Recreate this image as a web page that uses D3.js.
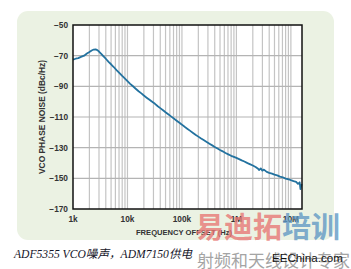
<!DOCTYPE html>
<html>
<head>
<meta charset="utf-8">
<script src="https://cdn.jsdelivr.net/npm/d3@7"></script>
<style>
  body { margin: 0; background: #fff; }
  svg { display: block; }
</style>
</head>
<body>
<figure id="chart" style="margin:0"></figure>
<script>
const freqs = [
  1000, 1120, 1250, 1400, 1600, 1800, 2000, 2200, 2400, 2600, 2800, 3000, 3300, 3600,
  4000, 4500, 5000, 5600, 6300, 7000, 8000, 9000, 10000, 11200, 12500, 14000, 16000,
  18000, 20000, 22500, 25000, 28000, 32000, 36000, 40000, 45000, 50000, 56000, 63000,
  71000, 80000, 90000, 100000, 112000, 125000, 140000, 160000, 180000, 200000, 225000,
  250000, 280000, 320000, 360000, 400000, 450000, 500000, 560000, 630000, 710000,
  800000, 900000, 1000000, 1120000, 1250000, 1400000, 1600000, 1800000, 2000000,
  2250000, 2500000, 2600000, 2800000, 3000000, 3200000, 3600000, 4000000, 4500000,
  5000000, 5600000, 6300000, 7100000, 8000000, 9000000, 10000000, 11200000, 12500000,
  13500000, 14500000, 15000000, 15500000, 16000000
];
const phaseNoise = [
  -72.6, -72.0, -71.6, -70.8, -70.0, -68.6, -67.6, -66.6, -66.0, -65.9, -66.4, -67.3, -68.8, -70.3,
  -72.0, -74.0, -75.6, -77.4, -79.4, -81.0, -83.2, -85.0, -86.6, -88.4, -89.8, -91.4, -93.2,
  -94.6, -96.0, -97.4, -98.6, -99.9, -101.4, -103.0, -104.2, -105.6, -106.9, -108.2, -109.6,
  -111.0, -112.4, -113.8, -115.0, -116.4, -117.6, -118.9, -120.4, -121.7, -122.8, -124.0,
  -125.0, -126.1, -127.4, -128.5, -129.5, -130.6, -131.5, -132.4, -133.5, -134.4,
  -135.3, -136.0, -136.7, -137.5, -138.3, -139.0, -140.1, -140.9, -141.6,
  -142.6, -143.8, -144.6, -143.5, -145.0, -144.3, -145.8, -146.4, -146.9,
  -147.6, -148.1, -148.9, -149.3, -150.2, -150.6, -151.2, -151.8, -152.3,
  -153.6, -152.6, -157.0, -154.5, -153.8
];
const yTicks = [-50, -70, -90, -110, -130, -150, -170];
const xTickVals = [1e3, 1e4, 1e5, 1e6, 1e7];
const xTickLabels = ["1k", "10k", "100k", "1M", "10M"];

const W = 351, H = 269;
const plot = {left: 73, right: 302, top: 25, bottom: 209};

const svg = d3.select("#chart").append("svg")
  .attr("width", W).attr("height", H);

// green panel behind the chart
svg.append("rect")
  .attr("x", 17).attr("y", 11).attr("width", 317).attr("height", 229)
  .attr("rx", 11).attr("fill", "#ebf2e3");

const x = d3.scaleLog().domain([1e3, 1.6e7]).range([plot.left, plot.right]);
const y = d3.scaleLinear().domain([-170, -50]).range([plot.bottom, plot.top]);

svg.append("rect")
  .attr("x", plot.left).attr("y", plot.top)
  .attr("width", plot.right - plot.left).attr("height", plot.bottom - plot.top)
  .attr("fill", "#fff");

// vertical grid (every 1..9 in each decade)
const minor = [];
for (let d = 1e3; d <= 1e7; d *= 10) {
  for (let k = 1; k <= 9; k++) {
    const f = d * k;
    if (f > 1e3 && f < 1.6e7) minor.push(f);
  }
}
svg.append("g").selectAll("line").data(minor).enter().append("line")
  .attr("x1", d => x(d)).attr("x2", d => x(d))
  .attr("y1", plot.top).attr("y2", plot.bottom)
  .attr("stroke", "#c4c4c4").attr("stroke-width", 1.2);

// horizontal grid
svg.append("g").selectAll("line").data(yTicks.slice(1, -1)).enter().append("line")
  .attr("x1", plot.left).attr("x2", plot.right)
  .attr("y1", d => y(d)).attr("y2", d => y(d))
  .attr("stroke", "#b4b4b4").attr("stroke-width", 1.2);

// the trace
const line = d3.line()
  .x((d, i) => x(freqs[i]))
  .y(d => y(d));
svg.append("path")
  .datum(phaseNoise)
  .attr("d", line)
  .attr("fill", "none")
  .attr("stroke", "#23729f")
  .attr("stroke-width", 1.8)
  .attr("stroke-linejoin", "round");

// frame
svg.append("rect")
  .attr("x", plot.left).attr("y", plot.top)
  .attr("width", plot.right - plot.left).attr("height", plot.bottom - plot.top)
  .attr("fill", "none").attr("stroke", "#111").attr("stroke-width", 1.5);

const tickFont = "'Liberation Sans', Arial, sans-serif";

// y tick labels
svg.append("g").selectAll("text").data(yTicks).enter().append("text")
  .attr("x", plot.left - 5).attr("y", d => y(d) + 3)
  .attr("text-anchor", "end")
  .attr("font-family", tickFont).attr("font-weight", "bold")
  .attr("font-size", 8.3).attr("fill", "#333")
  .text(d => String(d).replace("-", "\u2212"));

// x tick labels
svg.append("g").selectAll("text").data(xTickVals).enter().append("text")
  .attr("x", d => x(d)).attr("y", plot.bottom + 13)
  .attr("text-anchor", "middle")
  .attr("font-family", tickFont).attr("font-weight", "bold")
  .attr("font-size", 8.3).attr("fill", "#333")
  .text((d, i) => xTickLabels[i]);

// axis titles
svg.append("text")
  .attr("x", 184).attr("y", 235)
  .attr("text-anchor", "middle")
  .attr("font-family", tickFont).attr("font-weight", "bold")
  .attr("font-size", 7.6).attr("fill", "#333")
  .text("FREQUENCY OFFSET (Hz)");

svg.append("text")
  .attr("transform", "translate(45,117) rotate(-90)")
  .attr("text-anchor", "middle")
  .attr("font-family", tickFont).attr("font-weight", "bold")
  .attr("font-size", 8.4).attr("fill", "#333")
  .text("VCO PHASE NOISE (dBc/Hz)");

// caption
svg.append("text")
  .attr("x", 14).attr("y", 258)
  .attr("font-family", "'Liberation Serif', 'Noto Sans CJK SC', serif")
  .attr("font-style", "italic")
  .attr("font-size", 11.6).attr("fill", "#141428")
  .text("ADF5355 VCO噪声，ADM7150供电");

// watermark
const wm = svg.append("text")
  .attr("x", 195).attr("y", 238)
  .attr("font-family", "'Noto Sans CJK SC', sans-serif")
  .attr("font-weight", "bold").attr("font-size", 29);
wm.append("tspan").attr("fill", "#e87774").attr("fill-opacity", 0.8).text("易迪拓");
wm.append("tspan").attr("fill", "#6098c4").attr("fill-opacity", 0.8).text("培训");

svg.append("text")
  .attr("x", 197).attr("y", 267)
  .attr("font-family", "'Noto Sans CJK SC', sans-serif")
  .attr("font-size", 17).attr("fill", "#a4a4a4")
  .text("射频和天线设计专家");

svg.append("text")
  .attr("x", 272).attr("y", 262)
  .attr("font-family", tickFont)
  .attr("font-size", 11.6).attr("fill", "#111")
  .text("EEChina.com");
</script>
</body>
</html>
